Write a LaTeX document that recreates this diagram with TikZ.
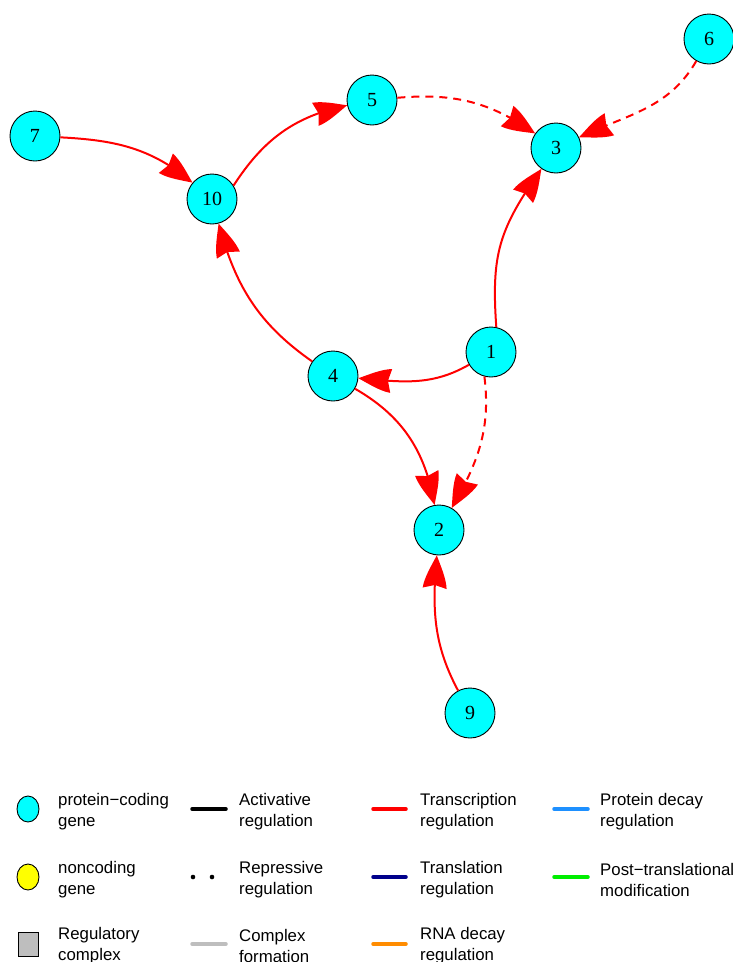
\documentclass[tikz,border=0pt]{standalone}
\usepackage{fontspec}
\setmainfont{Liberation Serif}
\newfontfamily\legfont{Liberation Sans}
\usetikzlibrary{arrows.meta,bending,shapes.geometric}
\pgfdeclarearrow{
  name = Igr,
  parameters = {\the\pgfarrowlength,\the\pgfarrowwidth},
  setup code = {
    \pgfarrowssettipend{0pt}
    \pgfarrowssetlineend{-0.85\pgfarrowlength}
    \pgfarrowssetbackend{-\pgfarrowlength}
    \pgfarrowshullpoint{0pt}{0pt}
    \pgfarrowshullpoint{-\pgfarrowlength}{0.5\pgfarrowwidth}
    \pgfarrowshullpoint{-\pgfarrowlength}{-0.5\pgfarrowwidth}
    \pgfarrowssavethe\pgfarrowlength
    \pgfarrowssavethe\pgfarrowwidth
  },
  drawing code = {
    \pgfpathmoveto{\pgfpointorigin}
    \pgfpathcurveto{\pgfpoint{-0.33\pgfarrowlength}{0.2\pgfarrowwidth}}{\pgfpoint{-0.67\pgfarrowlength}{0.45\pgfarrowwidth}}{\pgfpoint{-\pgfarrowlength}{0.5\pgfarrowwidth}}
    \pgfpathlineto{\pgfpoint{-0.9\pgfarrowlength}{0pt}}
    \pgfpathlineto{\pgfpoint{-\pgfarrowlength}{-0.5\pgfarrowwidth}}
    \pgfpathcurveto{\pgfpoint{-0.67\pgfarrowlength}{-0.45\pgfarrowwidth}}{\pgfpoint{-0.33\pgfarrowlength}{-0.2\pgfarrowwidth}}{\pgfpointorigin}
    \pgfpathclose
    \pgfusepathqfill
  },
  defaults = {length = 33pt, width = 24pt}
}
\definecolor{gcyan}{RGB}{0,255,255}
\definecolor{gyellow}{RGB}{255,255,0}
\definecolor{ggrey}{RGB}{190,190,190}
\definecolor{gdblue}{RGB}{0,0,139}
\definecolor{gblue}{RGB}{30,144,255}
\definecolor{ggreen}{RGB}{0,238,0}
\definecolor{gorange}{RGB}{255,140,0}
\tikzset{
  gene/.style={circle, draw=black, line width=0.9pt, fill=gcyan, minimum size=50pt, inner sep=0pt, font=\fontsize{20}{20}\selectfont},
  edge/.style={draw=red, line width=2pt, -{Igr[length=33pt,width=24pt]}},
  dashededge/.style={edge, dash pattern=on 8pt off 6pt},
  legtext/.style={anchor=west, align=left, inner sep=0pt, font=\legfont\fontsize{16.8}{21}\selectfont},
  legline/.style={line width=3.5pt, line cap=round},
}
\begin{document}
\begin{tikzpicture}[x=1pt,y=-1pt]
\useasboundingbox (0,0) rectangle (733,962);
% nodes
\node[gene] (n7) at (35,136) {7};
\node[gene] (n10) at (212,199) {10};
\node[gene] (n5) at (372,100) {5};
\node[gene] (n3) at (556,148) {3};
\node[gene] (n6) at (709,39) {6};
\node[gene] (n1) at (491,352) {1};
\node[gene] (n4) at (333,376) {4};
\node[gene] (n2) at (439,530) {2};
\node[gene] (n9) at (470,713) {9};
% edges
\draw[edge] (n7) to[out=-3,in=140] (n10);
\draw[edge] (n10.32) to[out=57,in=192] (n5);
\draw[dashededge] (n5) to[out=5,in=145] (n3);
\draw[dashededge] (n6) to[out=240,in=25] (n3);
\draw[edge] (n1.78) to[out=94,in=235,looseness=1.15] (n3);
\draw[edge] (n4) to[out=145,in=285] (n10);
\draw[edge] (n1) to[out=210,in=-5] (n4);
\draw[dashededge] (n1.255) to[out=277,in=60] (n2);
\draw[edge] (n4) to[out=-30,in=100] (n2);
\draw[edge] (n9) to[out=118,in=265] (n2);
% legend column 1
\node[ellipse, draw=black, line width=0.9pt, fill=gcyan, minimum width=22pt, minimum height=26pt, inner sep=0pt] (lg1) at (28,809) {};
\node[legtext] (lt1) at (58,812) {protein−coding\\gene};
\node[ellipse, draw=black, line width=0.9pt, fill=gyellow, minimum width=22pt, minimum height=26pt, inner sep=0pt] (lg2) at (28,877) {};
\node[legtext] (lt2) at (58,880) {noncoding\\gene};
\node[rectangle, draw=black, line width=0.9pt, fill=ggrey, minimum width=20pt, minimum height=24pt, inner sep=0pt] (lg3) at (28,944) {};
\node[legtext] (lt3) at (58,946) {Regulatory\\complex};
% legend column 2
\coordinate (a1) at (192,809); \coordinate (a2) at (226,809);
\draw[legline, black] (a1) -- (a2);
\node[legtext] (lt4) at (239,812) {Activative\\regulation};
\fill[black] (193,877) circle (2.3pt) (212,877) circle (2.3pt);
\node[legtext] (lt5) at (239,880) {Repressive\\regulation};
\coordinate (c1) at (192,944); \coordinate (c2) at (226,944);
\draw[legline, ggrey] (c1) -- (c2);
\node[legtext] (lt6) at (239,946) {Complex\\formation};
% legend column 3
\coordinate (t1) at (373,809); \coordinate (t2) at (406,809);
\draw[legline, red] (t1) -- (t2);
\node[legtext] (lt7) at (420,812) {Transcription\\regulation};
\coordinate (tr1) at (373,877); \coordinate (tr2) at (406,877);
\draw[legline, gdblue] (tr1) -- (tr2);
\node[legtext] (lt8) at (420,880) {Translation\\regulation};
\coordinate (r1) at (373,944); \coordinate (r2) at (406,944);
\draw[legline, gorange] (r1) -- (r2);
\node[legtext] (lt9) at (420,946) {RNA decay\\regulation};
% legend column 4
\coordinate (p1) at (554,809); \coordinate (p2) at (588,809);
\draw[legline, gblue] (p1) -- (p2);
\node[legtext] (lt10) at (600,812) {Protein decay\\regulation};
\coordinate (m1) at (554,877); \coordinate (m2) at (588,877);
\draw[legline, ggreen] (m1) -- (m2);
\node[legtext] (lt11) at (600,880) {Post−translational\\modification};
\end{tikzpicture}
\end{document}
